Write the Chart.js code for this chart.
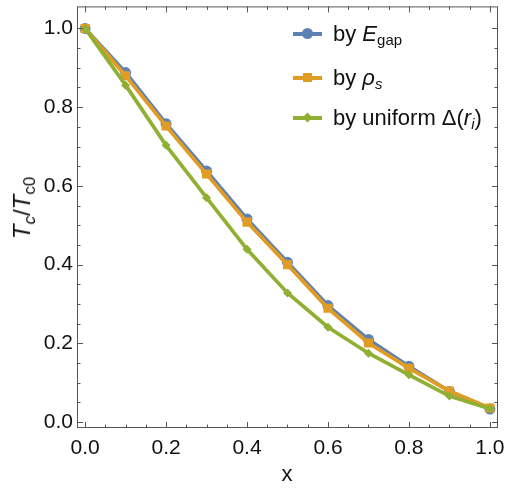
<!DOCTYPE html>
<html lang="en">
<head>
<meta charset="UTF-8">
<title>Tc / Tc0 versus x</title>
<script src="https://cdn.jsdelivr.net/npm/chart.js"></script>
<style>
  html, body { margin: 0; padding: 0; background: #fff; }
  #wrap { position: relative; width: 505px; height: 489px; font-family: "Liberation Sans", Arial, sans-serif; color: #111; }
  #chart { position: absolute; left: 0; top: 0; }
  .lbl { position: absolute; white-space: nowrap; font-size: 22px; line-height: 22px; }
  .lbl sub { font-size: 15px; vertical-align: -4px; line-height: 0; }
  #ytitle { font-size: 24px; line-height: 24px; }
  #ytitle sub { font-size: 17px; vertical-align: -5px; }
  .leg { position: absolute; left: 293px; height: 20px; }
  .leg .ln { position: absolute; left: 0; top: 8px; width: 29px; height: 4px; }
  .leg .mk { position: absolute; }
  .leg .tx { position: absolute; left: 40px; top: -1px; font-size: 22px; line-height: 22px; white-space: nowrap; }
  .leg .tx sub { font-size: 15px; vertical-align: -4px; line-height: 0; }
</style>
</head>
<body>
<div id="wrap">
  <canvas id="chart" width="505" height="489"></canvas>

  <div class="lbl" id="ytitle" style="left:22px; top:208px; transform: translate(-50%, -50%) rotate(-90deg);"><i>T</i><sub><i>c</i></sub>/<i>T</i><sub>c0</sub></div>
  <div class="lbl" id="xtitle" style="left:287px; top:474px; transform: translate(-50%, -50%);">x</div>

  <div class="leg" style="top:24px;">
    <div class="ln" style="background:#5E81B5"></div>
    <div class="mk" style="left:9px; top:4px; width:11px; height:11px; border-radius:50%; background:#5E81B5"></div>
    <div class="tx">by <i>E</i><sub>gap</sub></div>
  </div>
  <div class="leg" style="top:68px;">
    <div class="ln" style="background:#E19C24"></div>
    <div class="mk" style="left:10px; top:5px; width:9px; height:9px; background:#E19C24"></div>
    <div class="tx">by <i>ρ</i><sub><i>s</i></sub></div>
  </div>
  <div class="leg" style="top:108px;">
    <div class="ln" style="background:#8FB032"></div>
    <div class="mk" style="left:11px; top:6px; width:7px; height:7px; background:#8FB032; transform: rotate(45deg);"></div>
    <div class="tx">by uniform Δ(<i>r</i><sub><i>i</i></sub>)</div>
  </div>
</div>

<script>
// data
const xValues = [0.0, 0.1, 0.2, 0.3, 0.4, 0.5, 0.6, 0.7, 0.8, 0.9, 1.0];
const gapValues = [1.0, 0.888, 0.758, 0.638, 0.516, 0.406, 0.296, 0.21, 0.142, 0.078, 0.033];
const rhoValues = [1.0, 0.88, 0.752, 0.63, 0.508, 0.40, 0.289, 0.201, 0.137, 0.079, 0.036];
const uniformValues = [1.0, 0.856, 0.703, 0.57, 0.439, 0.328, 0.241, 0.175, 0.12, 0.066, 0.034];

const xTicks = [0.0, 0.2, 0.4, 0.6, 0.8, 1.0];
const yTicks = [0.0, 0.2, 0.4, 0.6, 0.8, 1.0];
const minorStep = 0.05;

const toPoints = vals => xValues.map((x, i) => ({ x: x, y: vals[i] }));

// frame with inward ticks on all four sides (Mathematica style)
const frameTicks = {
    id: "frameTicks",
    afterDraw(chart) {
        const ctx = chart.ctx;
        const a = chart.chartArea;
        const xs = chart.scales.x, ys = chart.scales.y;
        ctx.save();
        ctx.strokeStyle = "#555";
        ctx.lineWidth = 1;
        ctx.strokeRect(a.left + 0.5, a.top + 0.5, a.right - a.left - 1, a.bottom - a.top - 1);
        ctx.beginPath();
        for (let v = 0; v <= 1.0001; v += minorStep) {
            const major = yTicks.some(t => Math.abs(t - v) < 1e-6);
            const len = major ? 6 : 3.5;
            const px = Math.round(xs.getPixelForValue(v)) + 0.5;
            ctx.moveTo(px, a.bottom); ctx.lineTo(px, a.bottom - len);
            ctx.moveTo(px, a.top); ctx.lineTo(px, a.top + len);
            const py = Math.round(ys.getPixelForValue(v)) + 0.5;
            ctx.moveTo(a.left, py); ctx.lineTo(a.left + len, py);
            ctx.moveTo(a.right, py); ctx.lineTo(a.right - len, py);
        }
        ctx.stroke();
        ctx.restore();
    }
};

new Chart(document.getElementById("chart").getContext("2d"), {
    type: "line",
    data: {
        datasets: [
            {
                label: "by E_gap",
                data: toPoints(gapValues),
                borderColor: "#5E81B5",
                backgroundColor: "#5E81B5",
                pointStyle: "circle",
                pointRadius: 5.5,
                order: 2
            },
            {
                label: "by rho_s",
                data: toPoints(rhoValues),
                borderColor: "#E19C24",
                backgroundColor: "#E19C24",
                pointStyle: "rect",
                pointRadius: 6.4,
                order: 1
            },
            {
                label: "by uniform Delta(r_i)",
                data: toPoints(uniformValues),
                borderColor: "#8FB032",
                backgroundColor: "#8FB032",
                pointStyle: "rectRot",
                pointRadius: 4.5,
                order: 0
            }
        ]
    },
    options: {
        responsive: false,
        animation: false,
        layout: { padding: { top: 6, right: 7, left: 0, bottom: 0 } },
        elements: {
            line: { borderWidth: 3.7, tension: 0 },
            point: { borderWidth: 0, hoverRadius: 5 }
        },
        plugins: { legend: { display: false }, tooltip: { enabled: false } },
        scales: {
            x: {
                type: "linear",
                min: -0.02,
                max: 1.02,
                grid: { display: false, drawTicks: false },
                border: { display: false },
                afterBuildTicks: s => { s.ticks = xTicks.map(v => ({ value: v })); },
                afterFit: s => { s.height = 61; s.paddingLeft = 0; s.paddingRight = 0; },
                ticks: {
                    padding: 8,
                    color: "#111",
                    font: { family: "Liberation Sans", size: 21 },
                    callback: v => v.toFixed(1)
                }
            },
            y: {
                type: "linear",
                min: -0.015,
                max: 1.056,
                grid: { display: false, drawTicks: false },
                border: { display: false },
                afterBuildTicks: s => { s.ticks = yTicks.map(v => ({ value: v })); },
                afterFit: s => { s.width = 77; s.paddingTop = 0; s.paddingBottom = 0; },
                ticks: {
                    padding: 4,
                    color: "#111",
                    font: { family: "Liberation Sans", size: 21 },
                    callback: v => v.toFixed(1)
                }
            }
        }
    },
    plugins: [frameTicks]
});
</script>
</body>
</html>
